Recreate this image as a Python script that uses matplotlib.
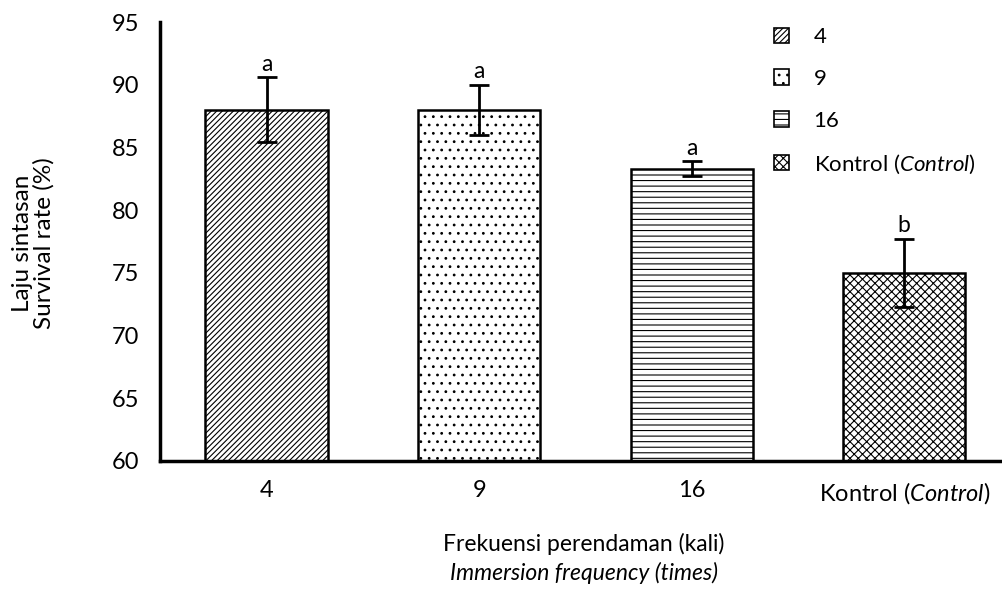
import numpy as np
import matplotlib
matplotlib.use("Agg")
import matplotlib.pyplot as plt
from matplotlib.patches import Patch

plt.rcParams['font.family'] = ['Lato', 'DejaVu Sans']
plt.rcParams['mathtext.fontset'] = 'custom'
plt.rcParams['mathtext.it'] = 'Lato:italic'
plt.rcParams['mathtext.rm'] = 'Lato'
plt.rcParams['hatch.linewidth'] = 0.8

# valores
kategori = ['4', '9', '16', 'Kontrol ($\\it{Control}$)']
sintasan = [88.0, 88.0, 83.3, 75.0]
galat = [2.6, 2.0, 0.6, 2.7]
huruf = ['a', 'a', 'a', 'b']
pola = ['//////', '..', '---', 'xxxx']
legenda = ['4', '9', '16', 'Kontrol ($\\it{Control}$)']

fs = 16.5

fig = plt.figure(figsize=(10.02, 5.93), dpi=100)
ax = fig.add_axes([0.16, 0.2226, 0.84, 0.7403])

x = np.arange(len(kategori))
bars = ax.bar(x, sintasan, width=0.575, bottom=0, color='white',
              edgecolor='black', linewidth=1.8)
for b, h in zip(bars, pola):
    b.set_hatch(h)

ax.errorbar(x, sintasan, yerr=galat, fmt='none', ecolor='black',
            elinewidth=2, capsize=7, capthick=2)

for xi, v, e, t in zip(x, sintasan, galat, huruf):
    ax.text(xi, v + e + 0.2, t, ha='center', va='bottom', fontsize=fs)

ax.set_ylim(60, 95)
ax.set_xlim(-0.5, 3.46)
ax.set_yticks(np.arange(60, 96, 5))
ax.set_xticks(x)
ax.set_xticklabels(kategori)
ax.tick_params(axis='both', length=0, labelsize=17)
ax.tick_params(axis='y', pad=15)
ax.tick_params(axis='x', pad=14)

for s in ['top', 'right']:
    ax.spines[s].set_visible(False)
for s in ['left', 'bottom']:
    ax.spines[s].set_linewidth(2.5)

handles = [Patch(facecolor='white', edgecolor='black', hatch=h, linewidth=1.2)
           for h in pola]
fig.legend(handles, legenda, loc='upper left',
           bbox_to_anchor=(763 / 1002, 1 - 16 / 593),
           frameon=False, fontsize=16, borderpad=0, handlelength=0.68,
           handleheight=0.68, handletextpad=1.1, labelspacing=0.98)

fig.text(0.033, 0.59, 'Laju sintasan\nSurvival rate (%)', rotation=90,
         ha='center', va='center', fontsize=17.5, linespacing=1.0)
fig.text(0.583, 0.083, 'Frekuensi perendaman (kali)', ha='center',
         va='center', fontsize=fs)
fig.text(0.583, 0.033, 'Immersion frequency (times)', ha='center',
         va='center', fontsize=fs, style='italic')

fig.savefig('out.png', dpi=100)
